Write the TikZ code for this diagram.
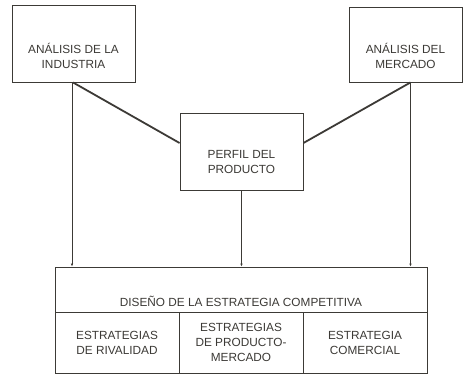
\documentclass[tikz,border=0pt]{standalone}
\usepackage{fontspec}
\setmainfont{Liberation Sans}
\usetikzlibrary{arrows.meta}
\definecolor{ink}{HTML}{3C3A36}
\begin{document}
\begin{tikzpicture}[x=1pt,y=-1pt,
  every node/.style={text=ink, font=\fontsize{11.8}{15}\selectfont, align=center, inner sep=0pt},
  topbox/.style={draw=ink, line width=0.9pt, minimum width=123pt, minimum height=77pt},
  cell/.style={draw=ink, line width=0.9pt, minimum width=124pt, minimum height=61pt},
  link/.style={draw=ink, line width=1.8pt},
  feed/.style={draw=ink, line width=0.8pt, -{Latex[length=3pt,width=2.6pt]}}]
\fill[white] (0,0) rectangle (464,374);
\useasboundingbox (0,0) rectangle (464,374);
% top boxes
\node[topbox] (ind) at (73.5,43.5) {};
\node (indt) at (73.5,55.5) {ANÁLISIS DE LA\\INDUSTRIA};
\node[topbox, minimum width=113pt, minimum height=75pt] (mer) at (405.5,44.5) {};
\node (mert) at (405.5,55.5) {ANÁLISIS DEL\\MERCADO};
\node[topbox] (per) at (241.5,151.5) {};
\node (pert) at (241.5,162.5) {PERFIL DEL\\PRODUCTO};
% bottom block
\node[draw=ink, line width=0.9pt, minimum width=372pt, minimum height=45pt] (dis) at (241,289.5) {};
\node (dist) at (241,301) {DISEÑO DE LA ESTRATEGIA COMPETITIVA};
\node[cell] (riv) at (117,342.5) {ESTRATEGIAS\\DE RIVALIDAD};
\node[cell] (pm) at (241,342.5) {ESTRATEGIAS\\DE PRODUCTO-\\MERCADO};
\node[cell] (com) at (365,342.5) {ESTRATEGIA\\COMERCIAL};
% coordinates on edges
\coordinate (indb) at ([xshift=-1.5pt]ind.south);
\coordinate (merb) at ([xshift=5pt]mer.south);
\coordinate (perl) at ([yshift=8.5pt]per.west);
\coordinate (perr) at ([yshift=8.5pt]per.east);
% diagonal links
\draw[link] ([xshift=1pt]indb) -- (perl);
\draw[link] (merb) -- (perr);
% vertical feeds
\draw[feed] (indb) -- (indb |- dis.north);
\draw[feed] (per.south) -- (per.south |- dis.north);
\draw[feed] (merb) -- (merb |- dis.north);
\end{tikzpicture}
\end{document}
